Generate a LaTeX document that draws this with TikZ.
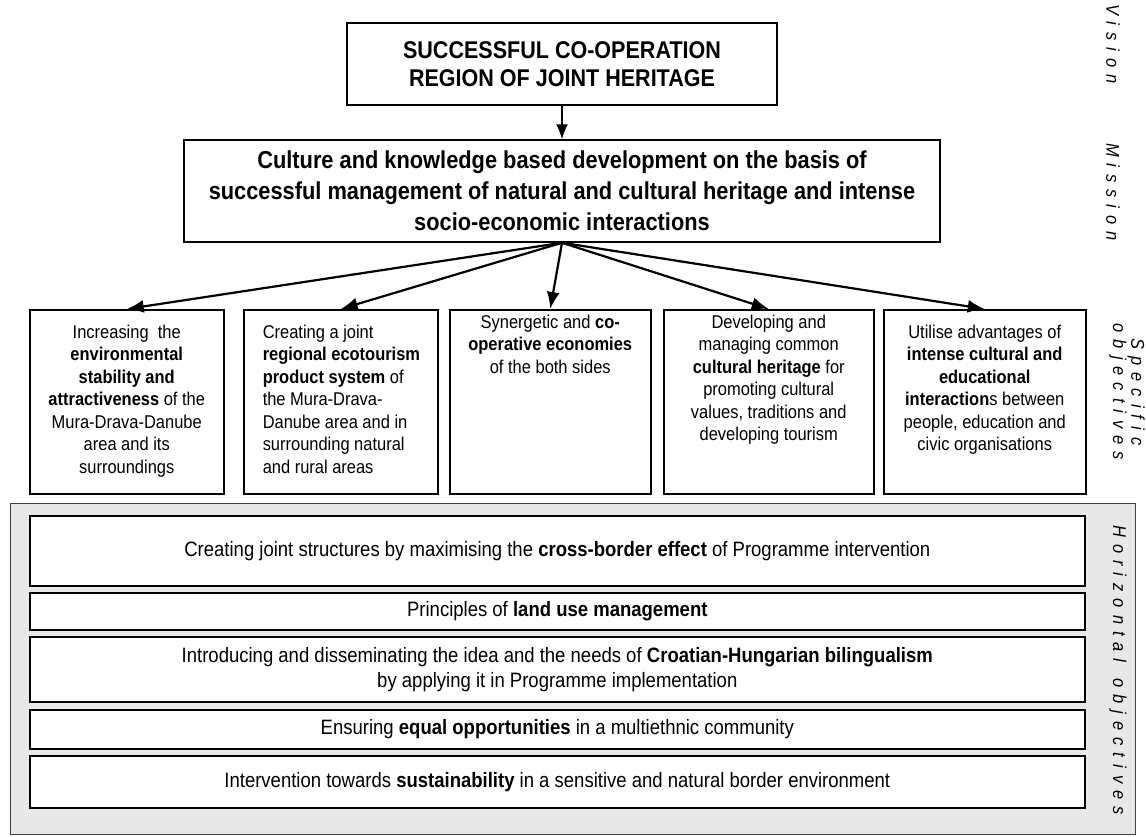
\documentclass[tikz,border=0pt]{standalone}
\usepackage{fontspec}
\setmainfont{Liberation Sans}[FakeStretch=0.89]
\usetikzlibrary{arrows.meta}

\newcommand{\objtext}[4][\centering]{\parbox[t][184pt][t]{#2}{#1\vspace*{#3}#4\par}}

\begin{document}
\begin{tikzpicture}[x=1pt,y=-1pt,font=\fontsize{18.5}{22.5}\selectfont,
    box/.style={draw,line width=1.5pt,fill=white,align=center},
    objbox/.style={draw,line width=1.5pt,anchor=north west,inner sep=0pt},
    panel/.style={draw=black!75,line width=1.2pt,fill=black!9,anchor=north west},
    hbox/.style={draw,line width=1.6pt,fill=white,anchor=north west,minimum width=1055pt,align=center,inner sep=0pt,font=\fontsize{20.8}{25}\selectfont},
    side/.style={rotate=-90,align=center,font=\fontsize{18.5}{17}\selectfont\itshape\addfontfeature{LetterSpace=38}},
    move/.style={-{Latex[length=17pt,width=13pt]},line width=2.2pt,draw}]

    \useasboundingbox (0,0) rectangle (1146,836);

    \node[box,minimum width=430pt,minimum height=82pt,font=\fontsize{24.2}{28}\selectfont\bfseries] (vision) at (562,64) {SUCCESSFUL CO-OPERATION\\REGION OF JOINT HERITAGE};
    \node[box,minimum width=756pt,minimum height=102pt,font=\fontsize{24.5}{31}\selectfont\bfseries] (mission) at (562,191) {Culture and knowledge based development on the basis of\\successful management of natural and cultural heritage and intense\\socio-economic interactions};

    \node[objbox] (o1) at (29,309) {\objtext{194pt}{15pt}{Increasing\ \ the\\\textbf{environmental}\\\textbf{stability and}\\\textbf{attractiveness} of the\\Mura-Drava-Danube\\area and its\\surroundings}};
    \node[objbox] (o2) at (243,309) {\objtext[\raggedright\leftskip=19pt]{194pt}{15pt}{Creating a joint\\\textbf{regional ecotourism}\\\textbf{product system} of\\the Mura-Drava-\\Danube area and in\\surrounding natural\\and rural areas}};
    \node[objbox] (o3) at (449,309) {\objtext{201pt}{5pt}{Synergetic and \textbf{co-}\\\textbf{operative economies}\\of the both sides}};
    \node[objbox] (o4) at (663,309) {\objtext{210pt}{5pt}{Developing and\\managing common\\\textbf{cultural heritage} for\\promoting cultural\\values, traditions and\\developing tourism}};
    \node[objbox] (o5) at (883,309) {\objtext{202pt}{15pt}{Utilise advantages of\\\textbf{intense cultural and}\\\textbf{educational}\\\textbf{interaction}s between\\people, education and\\civic organisations}};

    \path[move,line width=1.6pt,-{Latex[length=15pt,width=12pt]}] (vision) -- (mission);
    \path[move] (mission.south) -- (o1.north);
    \path[move] (mission.south) -- (o2.north);
    \path[move] (mission.south) -- (o3.north);
    \path[move] (mission.south) -- (o4.north);
    \path[move] (mission.south) -- (o5.north);

    % horizontal objectives
    \node[panel,minimum width=1125pt,minimum height=331pt] (hpanel) at (10,503) {};
    \node[hbox,minimum height=70pt] (h1) at (29,515) {Creating joint structures by maximising the \textbf{cross-border effect} of Programme intervention};
    \node[hbox,minimum height=37pt] (h2) at (29,592) {Principles of \textbf{land use management}};
    \node[hbox,minimum height=65pt] (h3) at (29,636) {Introducing and disseminating the idea and the needs of \textbf{Croatian-Hungarian bilingualism}\\by applying it in Programme implementation};
    \node[hbox,minimum height=39pt] (h4) at (29,709) {Ensuring \textbf{equal opportunities} in a multiethnic community};
    \node[hbox,minimum height=52pt] (h5) at (29,755) {Intervention towards \textbf{sustainability} in a sensitive and natural border environment};

    \node[side] (lvision) at (1113,44) {Vision};
    \node[side] (lmission) at (1113,192) {Mission};
    \node[side] (lspecific) at (1127,392) {Specific\\objectives};
    \node[side] (lhoriz) at (1118,670) {Horizontal\hspace{4pt} objectives};
\end{tikzpicture}
\end{document}
